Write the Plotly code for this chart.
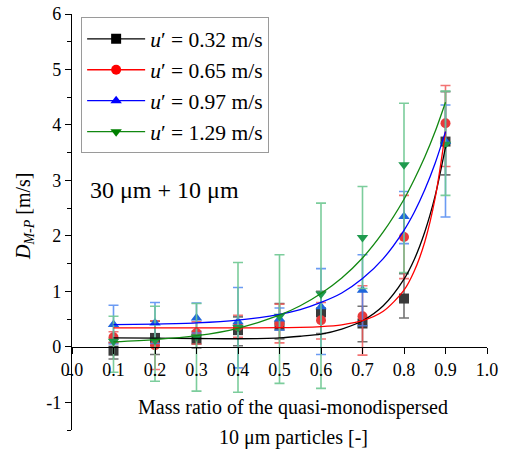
import plotly.graph_objects as go

# ---------------- data ----------------
x_ratio = [0.1, 0.2, 0.3, 0.4, 0.5, 0.6, 0.7, 0.8, 0.9]

series_names = ["<i>u</i>\u2032 = 0.32 m/s", "<i>u</i>\u2032 = 0.65 m/s",
                "<i>u</i>\u2032 = 0.97 m/s", "<i>u</i>\u2032 = 1.29 m/s"]

y_032 = [-0.07, 0.16, 0.13, 0.30, 0.38, 0.62, 0.42, 0.87, 3.70]
y_065 = [0.17, 0.03, 0.25, 0.37, 0.42, 0.48, 0.55, 1.98, 4.03]
y_097 = [0.40, 0.43, 0.52, 0.45, 0.50, 0.72, 1.02, 2.35, 3.70]
y_129 = [0.10, 0.12, 0.18, 0.35, 0.55, 0.95, 1.97, 3.28, 3.65]

# error bars (upper / lower)
ep_032 = [0.15, 0.30, 0.15, 0.24, 0.40, 0.38, 0.31, 0.45, 0.90]
em_032 = [0.15, 0.30, 0.15, 0.28, 0.24, 0.38, 0.33, 0.35, 0.60]
ep_065 = [0.10, 0.44, 0.20, 0.20, 0.35, 0.32, 0.55, 0.75, 0.68]
em_065 = [0.10, 0.44, 0.20, 0.20, 0.35, 0.34, 0.70, 0.75, 0.78]
ep_097 = [0.35, 0.37, 0.27, 0.62, 0.20, 0.69, 0.64, 0.45, 0.66]
em_097 = [0.35, 0.37, 0.27, 0.83, 0.20, 0.86, 0.64, 0.49, 1.36]
ep_129 = [0.45, 0.61, 0.60, 1.17, 1.11, 1.64, 0.92, 1.11, 0.96]
em_129 = [0.56, 0.74, 0.98, 1.17, 1.21, 1.70, 0.92, 1.94, 0.92]

# fitted curves
x_fit = [0.1, 0.2, 0.3, 0.4, 0.5, 0.55, 0.6, 0.65, 0.7, 0.75, 0.8, 0.825, 0.85, 0.875, 0.9]
fit_032 = [0.16, 0.155, 0.15, 0.145, 0.16, 0.19, 0.23, 0.32, 0.47, 0.74, 1.22, 1.58, 2.07, 2.72, 3.60]
fit_065 = [0.34, 0.34, 0.34, 0.34, 0.345, 0.351, 0.365, 0.397, 0.47, 0.64, 1.02, 1.37, 1.89, 2.68, 3.88]
fit_097 = [0.40, 0.41, 0.43, 0.48, 0.585, 0.67, 0.80, 0.97, 1.23, 1.59, 2.10, 2.43, 2.83, 3.31, 3.88]
fit_129 = [0.09, 0.13, 0.20, 0.334, 0.57, 0.74, 0.96, 1.24, 1.60, 2.07, 2.66, 3.02, 3.42, 3.88, 4.41]

x_ticks = [0.0, 0.1, 0.2, 0.3, 0.4, 0.5, 0.6, 0.7, 0.8, 0.9, 1.0]
x_ticktext = ["0.0", "0.1", "0.2", "0.3", "0.4", "0.5", "0.6", "0.7", "0.8", "0.9", "1.0"]
y_ticks = [-1, 0, 1, 2, 3, 4, 5, 6]
y_ticktext = ["-1", "0", "1", "2", "3", "4", "5", "6"]
y_minor = [-1.5, -0.5, 0.5, 1.5, 2.5, 3.5, 4.5, 5.5]

# ---------------- styling ----------------
FONT = "'Liberation Serif', 'Times New Roman', serif"
ys = [y_032, y_065, y_097, y_129]
eps = [ep_032, ep_065, ep_097, ep_129]
ems = [em_032, em_065, em_097, em_129]
fits = [fit_032, fit_065, fit_097, fit_129]
symbols = ["square", "circle", "triangle-up", "triangle-down"]
marker_colors = ["#3a3a3a", "#e83a3a", "#1f66dc", "#1f9a4e"]
legend_marker_colors = ["#000000", "#ff0000", "#0000ff", "#008000"]
line_colors = ["#000000", "#ff0000", "#0000ff", "#118811"]
err_colors = ["rgba(90,90,90,0.85)", "rgba(240,80,80,0.8)",
              "rgba(70,130,240,0.8)", "rgba(110,200,145,0.9)"]

fig = go.Figure()

for i in range(4):
    fig.add_trace(go.Scatter(
        x=x_ratio, y=ys[i], mode="markers", showlegend=False,
        marker=dict(symbol=symbols[i], size=10, color=marker_colors[i]),
        error_y=dict(type="data", array=eps[i], arrayminus=ems[i], symmetric=False,
                     color=err_colors[i], thickness=1.6, width=5),
    ))

for i in range(4):
    fig.add_trace(go.Scatter(
        x=x_fit, y=fits[i], mode="lines", showlegend=False,
        line=dict(color=line_colors[i], width=1.3, shape="spline", smoothing=0.8),
    ))

for i in range(4):
    fig.add_trace(go.Scatter(
        x=[None], y=[None], mode="lines+markers", name=series_names[i],
        line=dict(color=line_colors[i], width=1.3),
        marker=dict(symbol=symbols[i], size=10, color=legend_marker_colors[i]),
    ))

fig.update_layout(
    width=508, height=450,
    margin=dict(l=72, r=21, t=14, b=20, autoexpand=False),
    paper_bgcolor="white", plot_bgcolor="white",
    font=dict(family=FONT, color="black", size=18),
    showlegend=True,
    legend=dict(x=0.022, y=0.992, xanchor="left", yanchor="top",
                bordercolor="#9a9a9a", borderwidth=1, bgcolor="white",
                font=dict(family=FONT, size=21.5, color="black"),
                tracegroupgap=0, itemwidth=58),
    xaxis=dict(range=[0, 1], tickmode="array", tickvals=x_ticks, ticktext=x_ticktext,
               ticks="outside", ticklen=6, tickwidth=1.2, tickcolor="black",
               showline=True, linecolor="black", linewidth=1.2, automargin=False,
               showgrid=False, zeroline=False, anchor="free", position=0.2,
               tickfont=dict(family=FONT, size=18, color="black")),
    yaxis=dict(range=[-1.5, 6], tickmode="array", tickvals=y_ticks, ticktext=y_ticktext,
               ticks="outside", ticklen=6, tickwidth=1.2, tickcolor="black",
               showline=True, linecolor="black", linewidth=1.2, automargin=False,
               showgrid=False, zeroline=False,
               minor=dict(tickmode="array", tickvals=y_minor, ticks="outside",
                          ticklen=4, tickwidth=1.2, tickcolor="black"),
               tickfont=dict(family=FONT, size=18, color="black")),
)

fig.add_annotation(x=0.038, y=0.577, xref="paper", yref="paper", xanchor="left", yanchor="middle",
                   text="30 \u03bcm + 10 \u03bcm", showarrow=False,
                   font=dict(family=FONT, size=24, color="black"))
fig.add_annotation(x=0.533, y=0.053, xref="paper", yref="paper", xanchor="center", yanchor="middle",
                   text="Mass ratio of the quasi-monodispersed", showarrow=False,
                   font=dict(family=FONT, size=20, color="black"))
fig.add_annotation(x=0.533, y=-0.017, xref="paper", yref="paper", xanchor="center", yanchor="middle",
                   text="10 \u03bcm particles [-]", showarrow=False,
                   font=dict(family=FONT, size=20, color="black"))
fig.add_annotation(x=-0.116, y=0.514, xref="paper", yref="paper", xanchor="center", yanchor="middle",
                   text="<i>D</i><sub><i>M-P</i></sub> [m/s]", textangle=-90, showarrow=False,
                   font=dict(family=FONT, size=20, color="black"))

fig.write_html("out.html", config={"displayModeBar": False},
               post_script="document.body.style.margin='0px';document.body.style.overflow='hidden';")
